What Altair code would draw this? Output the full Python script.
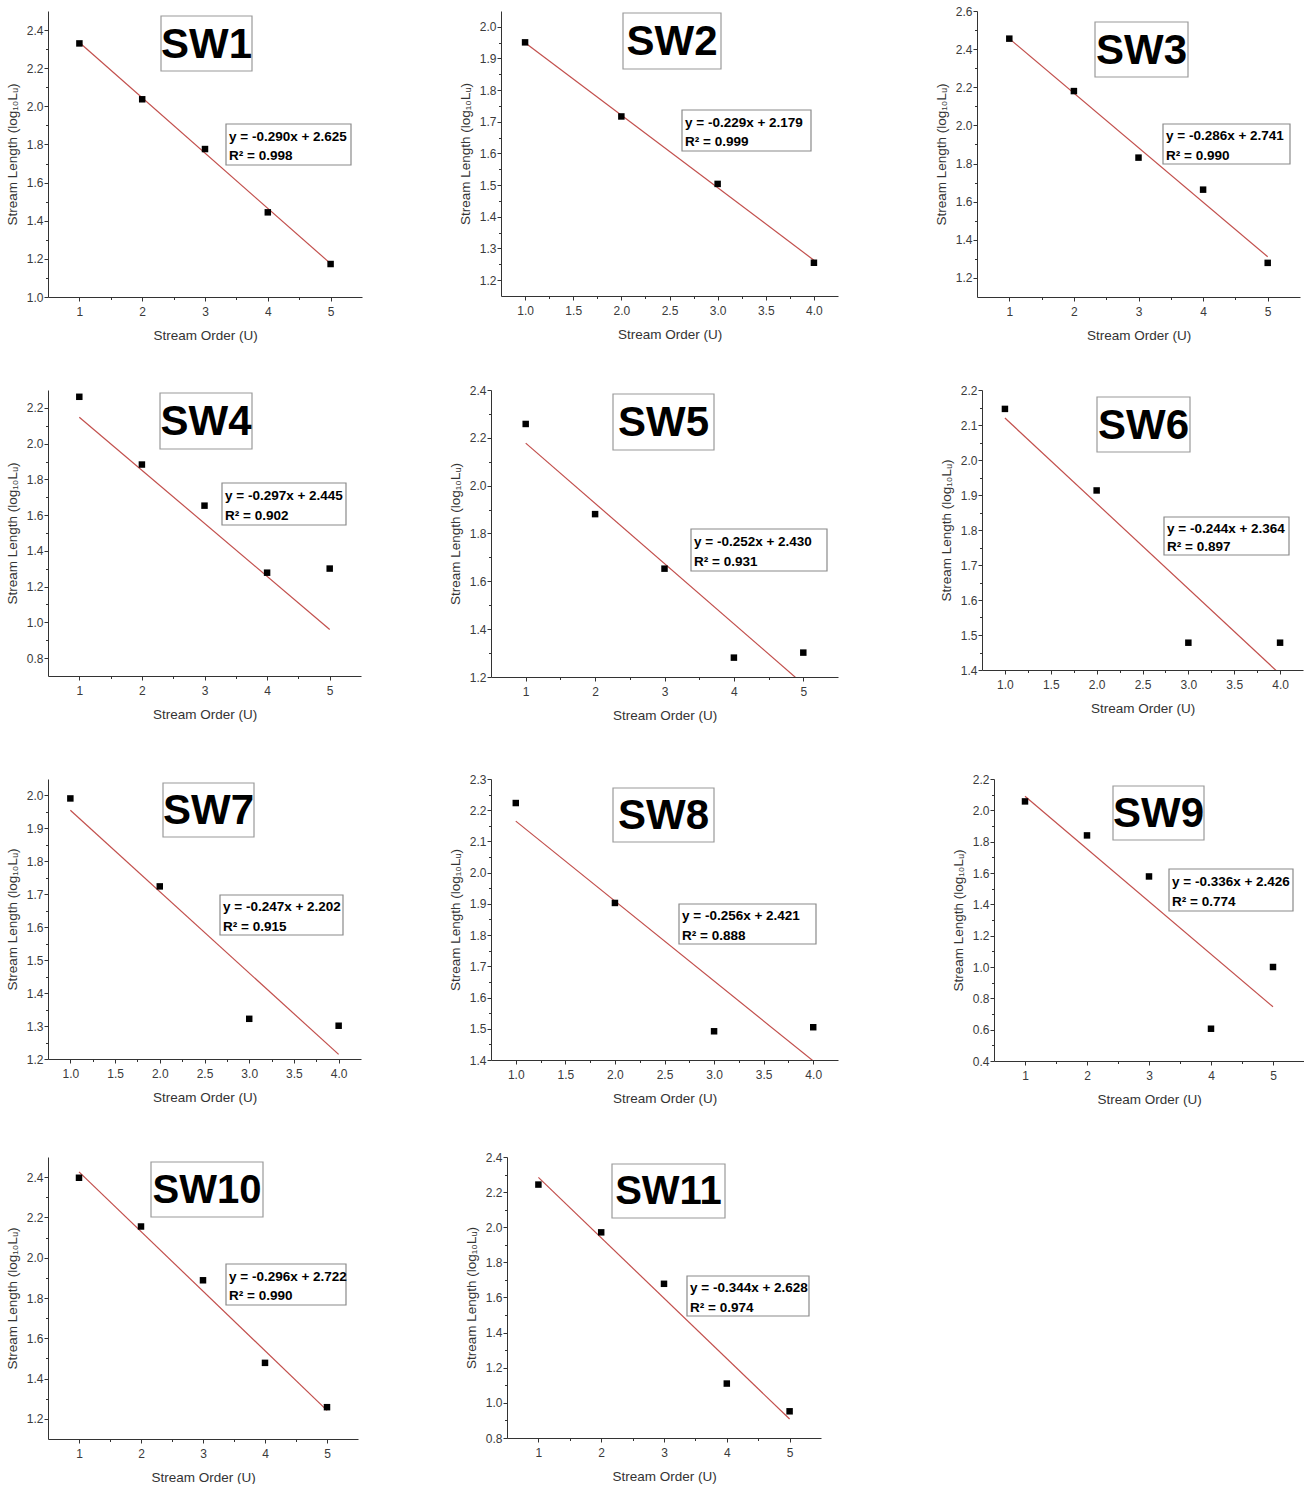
import math
import altair as alt
import pandas as pd

# ---------------- data ----------------
names = ["SW1", "SW2", "SW3", "SW4", "SW5", "SW6", "SW7", "SW8", "SW9", "SW10", "SW11"]

sw1_order = [1, 2, 3, 4, 5]
sw1_len = [2.330, 2.037, 1.776, 1.444, 1.173]
sw2_order = [1, 2, 3, 4]
sw2_len = [1.951, 1.717, 1.504, 1.255]
sw3_order = [1, 2, 3, 4, 5]
sw3_len = [2.455, 2.180, 1.831, 1.663, 1.279]
sw4_order = [1, 2, 3, 4, 5]
sw4_len = [2.262, 1.883, 1.653, 1.278, 1.301]
sw5_order = [1, 2, 3, 4, 5]
sw5_len = [2.258, 1.881, 1.653, 1.281, 1.302]
sw6_order = [1, 2, 3, 4]
sw6_len = [2.146, 1.913, 1.478, 1.478]
sw7_order = [1, 2, 3, 4]
sw7_len = [1.991, 1.724, 1.322, 1.301]
sw8_order = [1, 2, 3, 4]
sw8_len = [2.223, 1.903, 1.492, 1.505]
sw9_order = [1, 2, 3, 4, 5]
sw9_len = [2.057, 1.840, 1.578, 0.606, 1.000]
sw10_order = [1, 2, 3, 4, 5]
sw10_len = [2.397, 2.155, 1.888, 1.478, 1.258]
sw11_order = [1, 2, 3, 4, 5]
sw11_len = [2.243, 1.971, 1.678, 1.110, 0.952]

orders = [sw1_order, sw2_order, sw3_order, sw4_order, sw5_order, sw6_order,
          sw7_order, sw8_order, sw9_order, sw10_order, sw11_order]
lengths = [sw1_len, sw2_len, sw3_len, sw4_len, sw5_len, sw6_len,
           sw7_len, sw8_len, sw9_len, sw10_len, sw11_len]

slopes = [-0.290, -0.229, -0.286, -0.297, -0.252, -0.244, -0.247, -0.256, -0.336, -0.296, -0.344]
intercepts = [2.625, 2.179, 2.741, 2.445, 2.430, 2.364, 2.202, 2.421, 2.426, 2.722, 2.628]
r_squared = [0.998, 0.999, 0.990, 0.902, 0.931, 0.897, 0.915, 0.888, 0.774, 0.990, 0.974]

# ---------------- layout (pixels, relative to each plot area) ----------------
LAYOUT = [
    dict(w=314, h=286, xd=(0.5, 5.5), yd=(1.0, 2.5), xs=1.0, ys=0.2, tb=(113, 204, 5, 60), eb=(178, 303, 113, 154)),
    dict(w=337, h=285, xd=(0.75, 4.25), yd=(1.15, 2.05), xs=0.5, ys=0.1, tb=(122, 220, 2, 58), eb=(181, 310, 99, 140)),
    dict(w=323, h=286, xd=(0.5, 5.5), yd=(1.1, 2.6), xs=1.0, ys=0.2, tb=(118, 211, 11, 66), eb=(186, 313, 113, 153)),
    dict(w=313, h=286, xd=(0.5, 5.5), yd=(0.7, 2.3), xs=1.0, ys=0.2, tb=(112, 204, 3, 59), eb=(174, 298, 93, 135)),
    dict(w=347, h=287, xd=(0.5, 5.5), yd=(1.2, 2.4), xs=1.0, ys=0.2, tb=(122, 223, 4, 60), eb=(200, 336, 139, 181)),
    dict(w=321, h=280, xd=(0.75, 4.25), yd=(1.4, 2.2), xs=0.5, ys=0.1, tb=(115, 208, 7, 62), eb=(182, 307, 127, 165)),
    dict(w=313, h=280, xd=(0.75, 4.25), yd=(1.2, 2.05), xs=0.5, ys=0.1, tb=(115, 206, 4, 58), eb=(172, 295, 116, 156)),
    dict(w=347, h=281, xd=(0.75, 4.25), yd=(1.4, 2.3), xs=0.5, ys=0.1, tb=(122, 223, 9, 63), eb=(188, 325, 125, 165)),
    dict(w=310, h=282, xd=(0.5, 5.5), yd=(0.4, 2.2), xs=1.0, ys=0.2, tb=(119, 210, 7, 61), eb=(175, 299, 90, 132)),
    dict(w=310, h=282, xd=(0.5, 5.5), yd=(1.1, 2.5), xs=1.0, ys=0.2, tb=(103, 215, 5, 60), eb=(178, 298, 107, 148)),
    dict(w=314, h=281, xd=(0.5, 5.5), yd=(0.8, 2.4), xs=1.0, ys=0.2, tb=(105, 218, 7, 61), eb=(180, 302, 119, 159)),
]

LINE_COLOR = "#c24f4c"
TITLE_FONT = "Liberation Sans, Arial, sans-serif"
BASE_FONT = "Liberation Sans"
Y_TITLE = "Stream Length (log\u2081\u2080L\u1d64)"
X_TITLE = "Stream Order (U)"


def ticks(lo, hi, step):
    k0 = math.ceil(lo / step - 1e-9)
    k1 = math.floor(hi / step + 1e-9)
    major = [round(k * step, 4) for k in range(k0, k1 + 1)]
    minor = []
    for k in range(k0 - 1, k1 + 1):
        v = (k + 0.5) * step
        if lo + 1e-6 < v < hi - 1e-6:
            minor.append(round(v, 4))
    return major, minor


def panel(i):
    L = LAYOUT[i]
    xs = orders[i]
    df = pd.DataFrame({"order": xs, "length": lengths[i]})
    x0, x1 = min(xs), max(xs)
    fit = pd.DataFrame({"order": [x0, x1],
                        "length": [slopes[i] * x0 + intercepts[i], slopes[i] * x1 + intercepts[i]]})

    xmaj, xmin = ticks(L["xd"][0], L["xd"][1], L["xs"])
    ymaj, ymin = ticks(L["yd"][0], L["yd"][1], L["ys"])
    xfmt = "d" if L["xs"] >= 1 else ".1f"

    xscale = alt.Scale(domain=list(L["xd"]), nice=False, zero=False)
    yscale = alt.Scale(domain=list(L["yd"]), nice=False, zero=False)

    x_axis = alt.Axis(values=xmaj, format=xfmt, title=X_TITLE, orient="bottom", tickSize=4,
                      labelPadding=5, titlePadding=11, labelFlush=False, labelOverlap=False, grid=False)
    y_axis = alt.Axis(values=ymaj, format=".1f", title=Y_TITLE, orient="left", tickSize=4,
                      labelPadding=1, titlePadding=7, labelFlush=False, labelOverlap=False, grid=False)
    x_minor = alt.Axis(values=xmin, labels=False, domain=False, title=None, orient="bottom",
                       tickSize=2.5, grid=False)
    y_minor = alt.Axis(values=ymin, labels=False, domain=False, title=None, orient="left",
                       tickSize=2.5, grid=False)

    line = alt.Chart(fit).mark_line(color=LINE_COLOR, strokeWidth=1.2, clip=True).encode(
        x=alt.X("order:Q", scale=xscale, axis=x_axis),
        y=alt.Y("length:Q", scale=yscale, axis=y_axis),
    )
    pts = alt.Chart(df).mark_square(size=42, color="black", opacity=1).encode(
        x=alt.X("order:Q", scale=xscale, axis=x_minor),
        y=alt.Y("length:Q", scale=yscale, axis=y_minor),
    )

    tb = L["tb"]
    eb = L["eb"]
    lab = pd.DataFrame({"name": [names[i]],
                        "eq": ["y = %.3fx + %.3f" % (slopes[i], intercepts[i])],
                        "r2": ["R\u00b2 = %.3f" % r_squared[i]]})
    base = alt.Chart(lab)
    t_rect = base.mark_rect(fill="white", stroke="#9a9a9a", strokeWidth=1.2).encode(
        x=alt.value(tb[0]), x2=alt.value(tb[1]), y=alt.value(tb[2]), y2=alt.value(tb[3]))
    t_size = 42 if len(names[i]) == 3 else 40
    t_text = base.mark_text(font=TITLE_FONT, fontSize=t_size, fontWeight="bold", color="black",
                            align="center", baseline="middle").encode(
        x=alt.value((tb[0] + tb[1]) / 2), y=alt.value((tb[2] + tb[3]) / 2 + 1), text="name:N")
    eh = eb[3] - eb[2]
    e_rect = base.mark_rect(fill="white", stroke="#8a8a8a", strokeWidth=1.2).encode(
        x=alt.value(eb[0]), x2=alt.value(eb[1]), y=alt.value(eb[2]), y2=alt.value(eb[3]))
    e_text1 = base.mark_text(font=BASE_FONT, fontSize=13.5, fontWeight="bold", color="black",
                             align="left", baseline="middle").encode(
        x=alt.value(eb[0] + 3), y=alt.value(eb[2] + 0.31 * eh), text="eq:N")
    e_text2 = base.mark_text(font=BASE_FONT, fontSize=13.5, fontWeight="bold", color="black",
                             align="left", baseline="middle").encode(
        x=alt.value(eb[0] + 3), y=alt.value(eb[2] + 0.79 * eh), text="r2:N")

    return alt.layer(line, pts, t_rect, t_text, e_rect, e_text1, e_text2).resolve_axis(
        x="independent", y="independent").properties(width=L["w"], height=L["h"])


P = [panel(i) for i in range(len(names))]

row1 = alt.hconcat(alt.hconcat(P[0], P[1], spacing=96), P[2], spacing=96)
row2 = alt.hconcat(alt.hconcat(P[3], P[4], spacing=87), P[5], spacing=101)
row3 = alt.hconcat(alt.hconcat(P[6], P[7], spacing=87), P[8], spacing=113)
row4 = alt.hconcat(P[9], P[10], spacing=106)

chart = alt.vconcat(
    row1,
    alt.vconcat(row2, alt.vconcat(row3, row4, spacing=45), spacing=51),
    spacing=42,
).properties(
    padding={"left": 5, "top": 5, "right": 0, "bottom": 0},
    background="white",
).configure_view(
    strokeWidth=0,
).configure_axis(
    labelFont=BASE_FONT,
    titleFont=BASE_FONT,
    labelFontSize=12,
    titleFontSize=13.5,
    titleFontWeight="normal",
    labelColor="#3a3a3a",
    titleColor="#333333",
    domainColor="#333333",
    tickColor="#333333",
    domainWidth=1,
    tickWidth=1,
)

chart.save("out.html", embed_options={"renderer": "svg", "actions": False})
